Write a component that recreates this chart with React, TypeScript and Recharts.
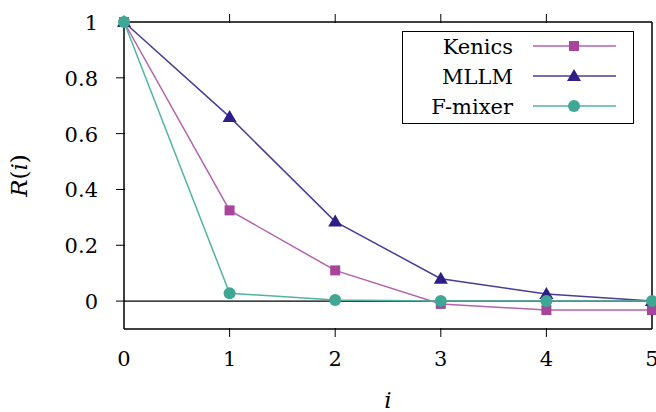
import { LineChart, Line, XAxis, YAxis, ReferenceLine, Legend } from 'recharts'

const STEPS = [0, 1, 2, 3, 4, 5]
const KENICS = [1, 0.325, 0.11, -0.01, -0.032, -0.032]
const MLLM = [1, 0.66, 0.285, 0.08, 0.025, 0]
const FMIXER = [1, 0.028, 0.004, 0, 0, 0]
const X_TICKS = [0, 1, 2, 3, 4, 5]
const Y_TICKS = [0, 0.2, 0.4, 0.6, 0.8, 1]

const data = STEPS.map((i, k) => ({ i, Kenics: KENICS[k], MLLM: MLLM[k], Fmixer: FMIXER[k] }))

const FONT = "'DejaVu Serif'"
const C_KEN = '#a8449c'
const C_MLLM = '#2e1f87'
const C_FMIX = '#3fa894'
const TICK = 9

const Square = (p: any) => (p.cx == null ? null : <rect x={p.cx - 5} y={p.cy - 5} width={10} height={10} fill={C_KEN} />)
const Tri = (p: any) =>
  p.cx == null ? null : (
    <polygon points={`${p.cx},${p.cy - 7} ${p.cx - 7},${p.cy + 5} ${p.cx + 7},${p.cy + 5}`} fill={C_MLLM} />
  )
const Dot = (p: any) => (p.cx == null ? null : <circle cx={p.cx} cy={p.cy} r={6} fill={C_FMIX} />)

const BottomTick = (p: any) => {
  const v = p.payload.value
  const inner = v !== 0 && v !== 5
  return (
    <g>
      {inner && <line x1={p.x} x2={p.x} y1={p.y} y2={p.y - TICK} stroke="#000" />}
      <text x={p.x} y={p.y + 29} textAnchor="middle" fontFamily={FONT} fontSize={21} fill="#000">{v}</text>
    </g>
  )
}
const TopTick = (p: any) => {
  const v = p.payload.value
  if (v === 0 || v === 5) return null
  return <line x1={p.x} x2={p.x} y1={p.y} y2={p.y + TICK} stroke="#000" />
}
const LeftTick = (p: any) => {
  const v = p.payload.value
  return (
    <g>
      {v !== 1 && <line x1={p.x} x2={p.x + TICK} y1={p.y} y2={p.y} stroke="#000" />}
      <text x={p.x - 18} y={p.y + 8} textAnchor="end" fontFamily={FONT} fontSize={21} fill="#000">{v}</text>
    </g>
  )
}
const RightTick = (p: any) => {
  const v = p.payload.value
  if (v === 1) return null
  return <line x1={p.x} x2={p.x - TICK} y1={p.y} y2={p.y} stroke="#000" />
}

const YLabel = (p: any) => {
  const vb = p.viewBox
  const cy = vb.y + vb.height / 2
  return (
    <text x={19} y={cy} transform={`rotate(-90 19 ${cy})`} textAnchor="middle" dominantBaseline="central" fontFamily={FONT} fontSize={23} fill="#000">
      <tspan fontStyle="italic">R</tspan>(<tspan fontStyle="italic">i</tspan>)
    </text>
  )
}

const XLabel = (p: any) => {
  const vb = p.viewBox
  return (
    <text x={vb.x + vb.width / 2} y={vb.y + vb.height - 4} textAnchor="middle" fontFamily={FONT} fontSize={23} fontStyle="italic" fill="#000">i</text>
  )
}

const LEGEND = [
  { name: 'Kenics', color: C_KEN, line: '#b462ac', mark: 'sq' },
  { name: 'MLLM', color: C_MLLM, line: '#4a3c95', mark: 'tri' },
  { name: 'F-mixer', color: C_FMIX, line: '#52b3a2', mark: 'dot' },
]

const LegendBox = () => (
  <svg width={232} height={93}>
    <rect x={0.5} y={0.5} width={231} height={92} fill="#fff" stroke="#000" />
    {LEGEND.map((it, k) => {
      const y = 15 + k * 30
      return (
        <g key={it.name}>
          <text x={111} y={y + 8} textAnchor="end" fontFamily={FONT} fontSize={21} fill="#000">{it.name}</text>
          <line x1={131} x2={214} y1={y} y2={y} stroke={it.line} strokeWidth={1.5} />
          {it.mark === 'sq' && <rect x={167} y={y - 5} width={10} height={10} fill={it.color} />}
          {it.mark === 'tri' && <polygon points={`172,${y - 7} 165,${y + 5} 179,${y + 5}`} fill={it.color} />}
          {it.mark === 'dot' && <circle cx={172} cy={y} r={6} fill={it.color} />}
        </g>
      )
    })}
  </svg>
)

export default function App() {
  return (
    <div style={{ position: 'absolute', left: 0, top: 0, width: 656, height: 412, background: '#fff' }}>
      <LineChart width={656} height={412} data={data} margin={{ top: 0, right: 0, left: 0, bottom: 0 }}>
        <XAxis
          dataKey="i"
          type="number"
          domain={[0, 5]}
          ticks={X_TICKS}
          height={83}
          tickLine={false}
          tick={<BottomTick />}
          axisLine={{ stroke: '#000', strokeWidth: 1.5 }}
          label={<XLabel />}
        />
        <XAxis
          xAxisId="top"
          orientation="top"
          dataKey="i"
          type="number"
          domain={[0, 5]}
          ticks={X_TICKS}
          height={22}
          tickLine={false}
          tick={<TopTick />}
          axisLine={{ stroke: '#000', strokeWidth: 1.5 }}
        />
        <YAxis
          type="number"
          domain={[-0.1, 1]}
          ticks={Y_TICKS}
          width={124}
          tickLine={false}
          tick={<LeftTick />}
          axisLine={{ stroke: '#000', strokeWidth: 1.5 }}
          label={<YLabel />}
        />
        <YAxis
          yAxisId="right"
          orientation="right"
          type="number"
          domain={[-0.1, 1]}
          ticks={Y_TICKS}
          width={4}
          tickLine={false}
          tick={<RightTick />}
          axisLine={{ stroke: '#000', strokeWidth: 1.5 }}
        />
        <ReferenceLine y={0} stroke="#000" strokeWidth={1.2} />
        <Legend
          layout="vertical"
          verticalAlign="middle"
          align="center"
          wrapperStyle={{ position: 'absolute', top: 31, left: 402, width: 232, height: 93 }}
          content={<LegendBox />}
        />
        <Line dataKey="Kenics" stroke="#b462ac" strokeWidth={1.5} dot={<Square />} isAnimationActive={false} />
        <Line dataKey="MLLM" stroke="#4a3c95" strokeWidth={1.5} dot={<Tri />} isAnimationActive={false} />
        <Line dataKey="Fmixer" stroke="#52b3a2" strokeWidth={1.5} dot={<Dot />} isAnimationActive={false} />
      </LineChart>
    </div>
  )
}
